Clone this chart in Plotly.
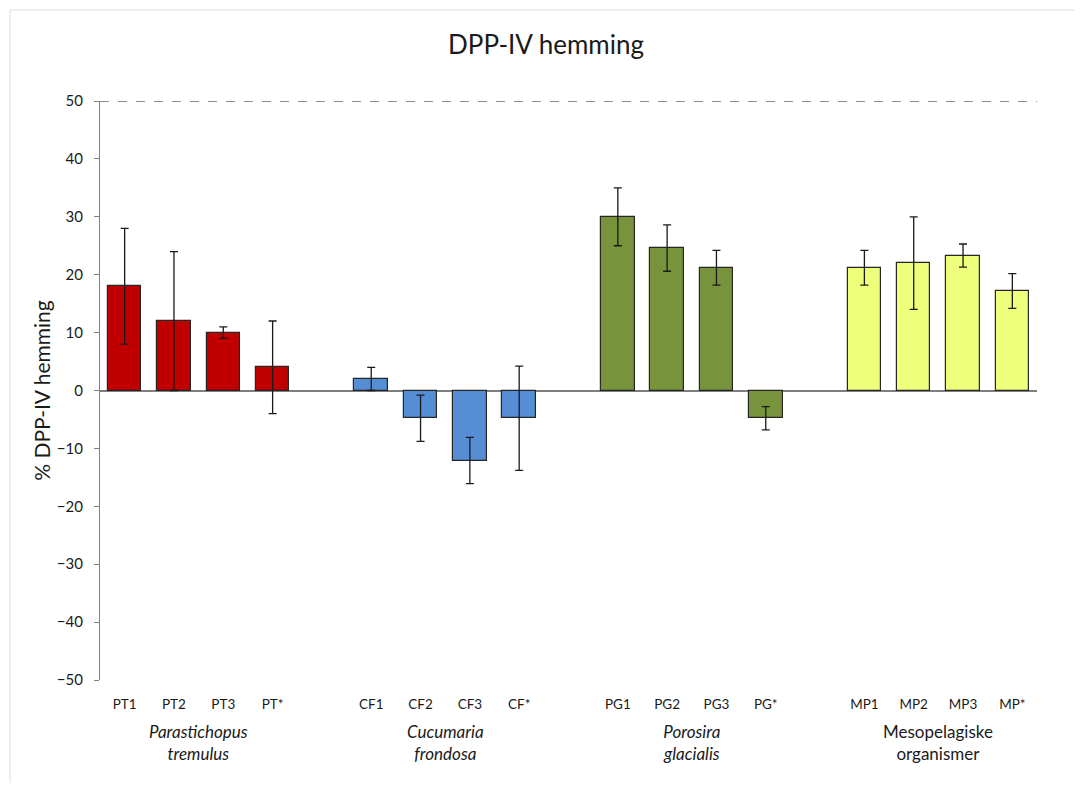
import plotly.graph_objects as go

# ---- data ----
categories = ["PT1", "PT2", "PT3", "PT*",
              "CF1", "CF2", "CF3", "CF*",
              "PG1", "PG2", "PG3", "PG*",
              "MP1", "MP2", "MP3", "MP*"]
values = [18, 12, 10, 4,
          2, -4.8, -12.1, -4.8,
          30, 24.6, 21.2, -4.8,
          21.2, 22, 23.3, 17.2]
errors = [10, 12, 1, 8,
          2, 4, 4, 9,
          5, 4, 3, 2,
          3, 8, 2, 3]
group_names = ["<i>Parastichopus</i><br><i>tremulus</i>",
               "<i>Cucumaria</i><br><i>frondosa</i>",
               "<i>Porosira</i><br><i>glacialis</i>",
               "Mesopelagiske<br>organismer"]
group_colors = ["#C00000", "#558ED5", "#77933C", "#EEFF7C"]
y_ticks = [-50, -40, -30, -20, -10, 0, 10, 20, 30, 40, 50]

# positions: 4 bars per group, one empty slot between groups
positions = []
for g in range(4):
    for i in range(4):
        positions.append(g * 5 + i)

FONT = "Lato, 'Open Sans', sans-serif"

W, H = 1066, 775
L, T = 92, 93
PW, PH = 937, 579
R = W - L - PW
B = H - T - PH

fig = go.Figure()
for g in range(4):
    sl = slice(g * 4, g * 4 + 4)
    fig.add_trace(go.Bar(
        x=positions[sl], y=values[sl],
        width=0.68,
        marker=dict(color=group_colors[g], line=dict(color="#262626", width=1.2)),
        error_y=dict(type="data", array=errors[sl], visible=True,
                     color="#1a1a1a", thickness=1.3, width=4),
        showlegend=False,
        hoverinfo="x+y",
    ))

annotations = []
for g in range(4):
    annotations.append(dict(
        x=g * 5 + 1.5, xref="x", y=-0.068, yref="paper",
        yanchor="top", xanchor="center", showarrow=False,
        text=group_names[g], align="center",
        font=dict(family=FONT, size=17, color="#1a1a1a"),
    ))

shapes = [
    # dashed line at top (50)
    dict(type="line", xref="paper", yref="y", x0=0, x1=1, y0=50, y1=50,
         line=dict(color="#1a1a1a", width=1, dash="dash")),
    # chart outer border
    dict(type="rect", xref="paper", yref="paper",
         x0=(2 - L) / PW, x1=1.2, y0=-(B + 20) / PH, y1=1 + (T - 2) / PH,
         line=dict(color="#D9E1EA", width=1), layer="below"),
]

fig.update_layout(
    width=W, height=H,
    paper_bgcolor="white", plot_bgcolor="white",
    margin=dict(l=L, r=R, t=T, b=B),
    title=dict(text="DPP-IV hemming", x=538 / W, xanchor="center",
               y=1 - 37 / H, yanchor="middle",
               font=dict(family=FONT, size=26, color="#1a1a1a")),
    bargap=0,
    xaxis=dict(
        range=[-0.5, 18.5], tickmode="array",
        tickvals=positions, ticktext=categories,
        showgrid=False, zeroline=False, showline=False, ticks="",
        tickfont=dict(family=FONT, size=13.5, color="#1a1a1a"),
        ticklabelstandoff=14,
    ),
    yaxis=dict(
        range=[-50, 50], tickmode="array", tickvals=y_ticks,
        showgrid=False, zeroline=True, zerolinecolor="#7f7f7f", zerolinewidth=1.5,
        showline=True, linecolor="#7f7f7f", linewidth=1.2,
        ticks="outside", ticklen=5, tickcolor="#7f7f7f",
        tickfont=dict(family=FONT, size=15, color="#1a1a1a"),
        ticklabelstandoff=8,
        title=dict(text="% DPP-IV hemming", font=dict(family=FONT, size=21, color="#1a1a1a"),
                   standoff=0),
    ),
    annotations=annotations,
    shapes=shapes,
)

fig.write_html("out.html")
